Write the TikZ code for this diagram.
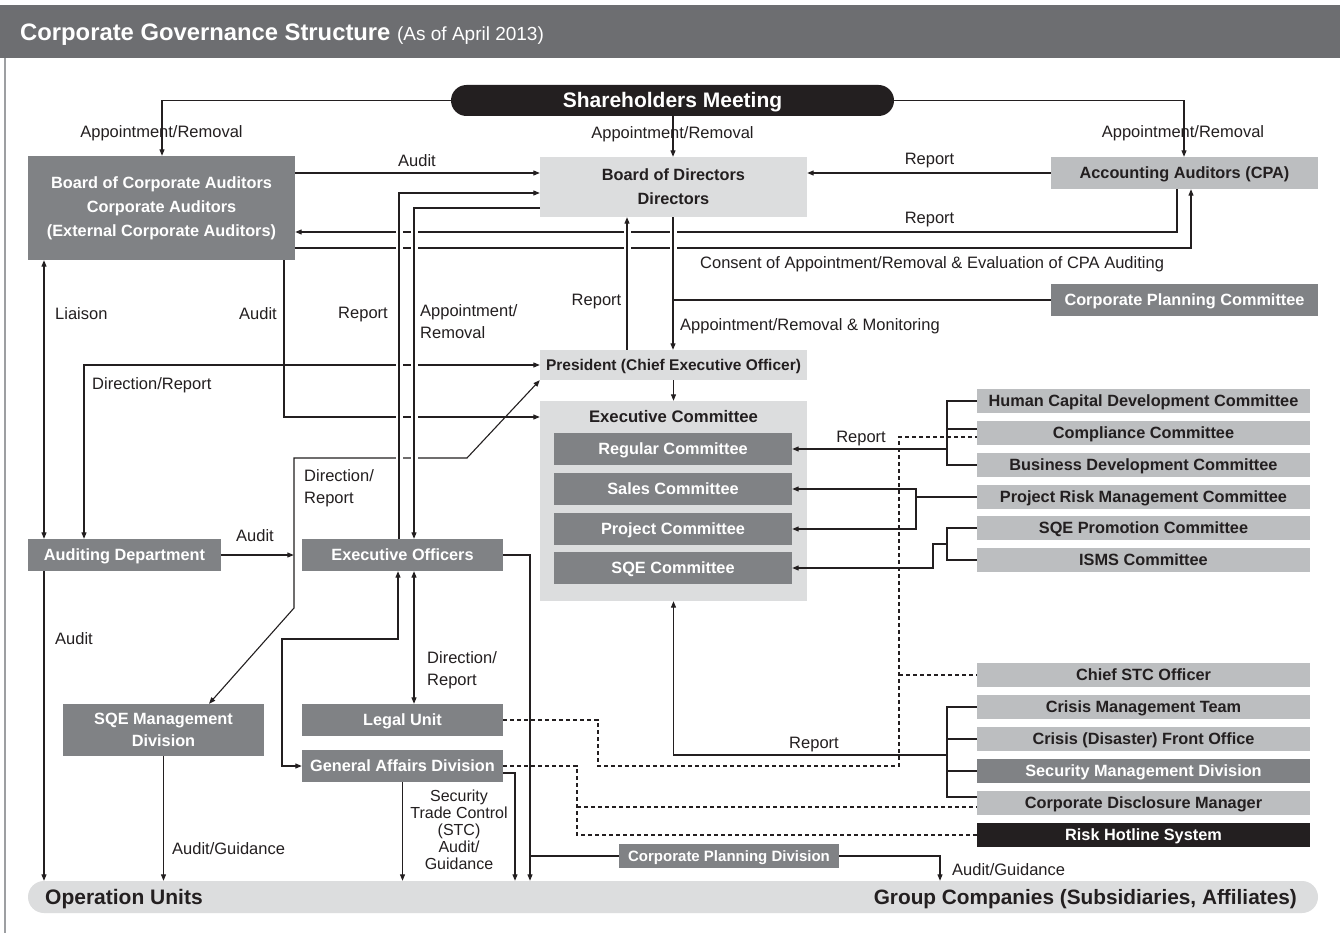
\documentclass[tikz,border=0pt]{standalone}
\usepackage{fontspec}
\setmainfont{Liberation Sans}
\usetikzlibrary{arrows.meta}
\definecolor{dk}{HTML}{808285}
\definecolor{lt}{HTML}{DCDDDE}
\definecolor{md}{HTML}{BCBEC0}
\definecolor{blk}{HTML}{231F20}
\definecolor{hdr}{HTML}{6D6E71}
\definecolor{frm}{HTML}{9D9FA2}
\begin{document}
\begin{tikzpicture}[x=1pt,y=-1pt,
  >={Triangle[length=6.5pt,width=5pt]},
  every node/.style={inner sep=0pt},
  con/.style={draw=blk,line width=1.1pt},
  halo/.style={preaction={draw=white,line width=7pt,arrows=-}},
  dsh/.style={draw=blk,line width=1.1pt,dash pattern=on 4pt off 3pt},
  bt/.style={font=\bfseries\fontsize{16.3}{24}\selectfont,align=center},
  one/.style={text height=11.7pt,text depth=0pt},
  dkb/.style={fill=dk,text=white,bt},
  ltb/.style={fill=lt,text=blk,bt},
  mdb/.style={fill=md,text=blk,bt},
  rc/.style={one,minimum width=333pt,minimum height=24pt},
  lbl/.style={text=blk,font=\fontsize{16.5}{22}\selectfont,text height=12pt,text depth=0pt},
]
\useasboundingbox (0,0) rectangle (1340,933);
\fill[white] (0,0) rectangle (1340,933);
% header
\fill[hdr] (0,5) rectangle (1340,58);
\draw[frm,line width=2pt] (4.5,58) -- (4.5,933);
\node[anchor=west,text=white,font=\bfseries\fontsize{23.8}{26}\selectfont,text height=17pt,text depth=0pt] (ttl) at (20,32) {Corporate Governance Structure\ {\mdseries\fontsize{19}{20}\selectfont(As of April 2013)}};

% nodes
\node[fill=blk,rounded corners=15.5pt,minimum width=443pt,minimum height=31pt,text=white,font=\bfseries\fontsize{21}{24}\selectfont,text height=15pt,text depth=0pt] (sh) at (672.5,100.5) {Shareholders Meeting};
\node[dkb,minimum width=267pt,minimum height=104pt] (bca) at (161.5,208) {Board of Corporate Auditors\\Corporate Auditors\\(External Corporate Auditors)};
\node[ltb,minimum width=267pt,minimum height=60pt] (bod) at (673.5,187) {Board of Directors\\Directors};
\node[mdb,one,minimum width=267pt,minimum height=32pt] (cpa) at (1184.5,173) {Accounting Auditors (CPA)};
\node[dkb,one,minimum width=267pt,minimum height=32pt] (cpc) at (1184.5,300) {Corporate Planning Committee};
\node[ltb,one,minimum width=267pt,minimum height=30pt,font=\bfseries\fontsize{15.5}{18}\selectfont] (pres) at (673.5,365) {President (Chief Executive Officer)};
\node[fill=lt,minimum width=267pt,minimum height=200pt] (ec) at (673.5,501) {};
\node[text=blk,font=\bfseries\fontsize{16.7}{20}\selectfont,one] (ect) at (673.5,417) {Executive Committee};
\node[dkb,one,minimum width=238pt,minimum height=32pt] (reg) at (673,449) {Regular Committee};
\node[dkb,one,minimum width=238pt,minimum height=32pt] (sales) at (673,489) {Sales Committee};
\node[dkb,one,minimum width=238pt,minimum height=32pt] (proj) at (673,529) {Project Committee};
\node[dkb,one,minimum width=238pt,minimum height=32pt] (sqe) at (673,568) {SQE Committee};

\node[mdb,rc] (hcd) at (1143.5,401) {Human Capital Development Committee};
\node[mdb,rc] (comp) at (1143.5,433) {Compliance Committee};
\node[mdb,rc] (bdc) at (1143.5,465) {Business Development Committee};
\node[mdb,rc] (prm) at (1143.5,497) {Project Risk Management Committee};
\node[mdb,rc] (sqep) at (1143.5,528) {SQE Promotion Committee};
\node[mdb,rc] (isms) at (1143.5,560) {ISMS Committee};
\node[mdb,rc] (cstc) at (1143.5,675) {Chief STC Officer};
\node[mdb,rc] (cmt) at (1143.5,707) {Crisis Management Team};
\node[mdb,rc] (cfo) at (1143.5,739) {Crisis (Disaster) Front Office};
\node[dkb,rc] (smd) at (1143.5,771) {Security Management Division};
\node[mdb,rc] (cdm) at (1143.5,803) {Corporate Disclosure Manager};
\node[fill=blk,text=white,bt,rc] (rhs) at (1143.5,835) {Risk Hotline System};

\node[dkb,one,minimum width=193pt,minimum height=32pt] (ad) at (124.5,555) {Auditing Department};
\node[dkb,one,minimum width=201pt,minimum height=32pt] (eo) at (402.5,555) {Executive Officers};
\node[dkb,minimum width=201pt,minimum height=52pt,font=\bfseries\fontsize{16.3}{22}\selectfont] (sqm) at (163.5,730) {SQE Management\\Division};
\node[dkb,one,minimum width=201pt,minimum height=32pt] (legal) at (402.5,720) {Legal Unit};
\node[dkb,one,minimum width=201pt,minimum height=32pt] (gad) at (402.5,766) {General Affairs Division};
\node[dkb,one,minimum width=220pt,minimum height=24pt,font=\bfseries\fontsize{15}{18}\selectfont] (cpd) at (729,856) {Corporate Planning Division};

\node[fill=lt,rounded corners=16pt,minimum width=1290pt,minimum height=32pt] (ou) at (673,897) {};
\node[anchor=west,text=blk,font=\bfseries\fontsize{21}{24}\selectfont,text height=15pt,text depth=0pt] (out) at (45,897) {Operation Units};
\node[anchor=east,text=blk,font=\bfseries\fontsize{20.8}{24}\selectfont,text height=15pt,text depth=0pt] (gct) at (1297,897) {Group Companies (Subsidiaries, Affiliates)};

% connectors
\draw[con,->] (sh.west) -| (162,0 |- bca.north);
\draw[con,->] (673,0 |- sh.south) -- (673,0 |- bod.north);
\draw[con,->] (sh.east) -| (1184,0 |- cpa.north);
\draw[con,->] (bca.east |- 0,173) -- (bod.west |- 0,173);
\draw[con,->] (cpa.west) -- (bod.east |- cpa.west);
\draw[con,->] (1177,0 |- cpa.south) |- (bca.east |- 0,232);
\draw[con,->] (bca.east |- 0,248) -| (1191,0 |- cpa.south);
\draw[con,<->] (84,0 |- ad.north) |- (pres.west);
\draw[con,->] (284,0 |- bca.south) |- (ec.west |- 0,417);
\draw[con,<->] (pres.south west) -- (467,458) -- (294,458) -- (294,608) -- (209,0 |- sqm.north);
\draw[con,<->] (44,0 |- bca.south) -- (44,0 |- ad.north);
\draw[con,->] (ad.east) -- ([xshift=-8pt]eo.west);
\draw[con,->] (44,0 |- ad.south) -- (44,0 |- ou.north);
\draw[con,->] (sqm.south) -- (sqm.south |- ou.north);
\draw[con,<->] (gad.west) -| (282,639) -| (398,0 |- eo.south);
\draw[con,<->] (414,0 |- eo.south) -- (414,0 |- legal.north);
\draw[con,->] (gad.south) -- (gad.south |- ou.north);
\draw[con,->] (gad.east |- 0,773) -| (515,0 |- ou.north);
\draw[con,->] (eo.east) -| (530,0 |- ou.north);
\draw[con] (530,0 |- cpd.west) -- (cpd.west);
\draw[con,->] (cpd.east) -| (940,0 |- ou.north);

% right side
\draw[con] (hcd.west) -| (947,0 |- bdc.west) -- (bdc.west);
\draw[con] (comp.west |- 0,429) -- (947,429);
\draw[con,->] (947,0 |- reg.east) -- (reg.east);
\draw[con] (prm.west) -- (916,0 |- prm.west);
\draw[con,->] (916,0 |- prm.west) |- (sales.east);
\draw[con,->] (916,0 |- prm.west) |- (proj.east);
\draw[con] (sqep.west) -| (947,0 |- isms.west) -- (isms.west);
\draw[con,->] (947,544) -- (933,544) |- (sqe.east);
\draw[con] (cmt.west) -| (947,797) -- (cdm.west |- 0,797);
\draw[con] (cfo.west) -- (947,0 |- cfo.west);
\draw[con] (smd.west) -- (947,0 |- smd.west);
\draw[con,->] (947,755) -| (ec.south);

% dashed
\draw[dsh] (legal.east) -| (598,766) -| (899,437) -- (comp.west |- 0,437);
\draw[dsh] (899,0 |- cstc.west) -- (cstc.west);
\draw[dsh] (gad.east) -| (577,0 |- rhs.west) -- (rhs.west);
\draw[dsh] (577,807) -- (cdm.west |- 0,807);

% verticals drawn over crossings
\draw[con,halo,->] (399,0 |- eo.north) |- (bod.west |- 0,193);
\draw[con,halo,->] (bod.west |- 0,208) -| (414,0 |- eo.north);
\draw[con,halo,->] (673,0 |- bod.south) -- (673,0 |- pres.north);
\draw[con,halo,->] (627,0 |- pres.north) -- (627,0 |- bod.south);
\draw[con] (cpc.west) -- (673,0 |- cpc.west);
\draw[con,->] (pres.south) -- (ec.north);

% labels
\node[lbl] (l1) at (161.5,132) {Appointment/Removal};
\node[lbl] (l2) at (672.5,133) {Appointment/Removal};
\node[lbl] (l3) at (1183,132) {Appointment/Removal};
\node[lbl] (l4) at (417,161) {Audit};
\node[lbl] (l5) at (929.5,159) {Report};
\node[lbl] (l6) at (929.5,218) {Report};
\node[lbl,anchor=west] (l7) at (700,263) {Consent of Appointment/Removal \& Evaluation of CPA Auditing};
\node[lbl] (l8) at (596.5,299) {Report};
\node[lbl,anchor=west] (l9) at (680,324) {Appointment/Removal \& Monitoring};
\node[lbl,anchor=west] (l10) at (55,313) {Liaison};
\node[lbl] (l11) at (258,313) {Audit};
\node[lbl] (l12) at (363,312) {Report};
\node[lbl,anchor=west] (l13a) at (420,310) {Appointment/};
\node[lbl,anchor=west] (l13b) at (420,332) {Removal};
\node[lbl,anchor=west] (l14) at (92,383) {Direction/Report};
\node[lbl,anchor=west] (l15a) at (304,475) {Direction/};
\node[lbl,anchor=west] (l15b) at (304,497) {Report};
\node[lbl] (l16) at (255,535) {Audit};
\node[lbl] (l17) at (861,436) {Report};
\node[lbl,anchor=west] (l18) at (55,638) {Audit};
\node[lbl,anchor=west] (l19a) at (427,657) {Direction/};
\node[lbl,anchor=west] (l19b) at (427,679) {Report};
\node[lbl] (l20) at (814,742) {Report};
\node[lbl,anchor=west] (l21) at (172,848) {Audit/Guidance};
\node[text=blk,font=\fontsize{16}{17}\selectfont,align=center,anchor=north] (l22) at (459,790) {Security\\Trade Control\\(STC)\\Audit/\\Guidance};
\node[lbl,anchor=west] (l23) at (952,869) {Audit/Guidance};
\end{tikzpicture}
\end{document}
